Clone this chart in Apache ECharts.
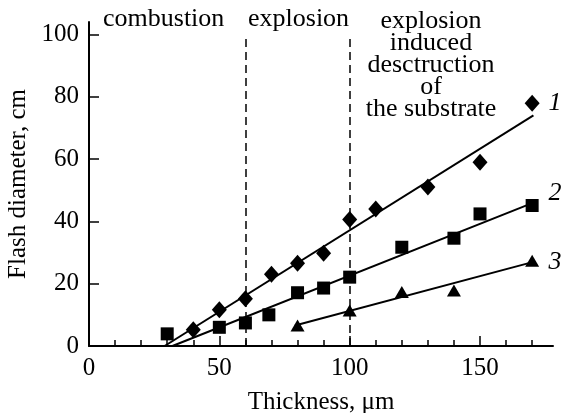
<!DOCTYPE html>
<html>
<head>
<meta charset="utf-8">
<script src="https://cdn.jsdelivr.net/npm/echarts@6/dist/echarts.min.js"></script>
<style>
html,body{margin:0;padding:0;background:#fff;}
#chart{width:564px;height:413px;}
</style>
</head>
<body>
<div id="chart"></div>
<script>
// ---- data ----
var diamonds = [[40,5.2],[50,11.6],[60,15.2],[70,23.0],[80,26.6],[90,29.8],[100,40.6],[110,44.0],[130,51.0],[150,59.0],[170,77.9]];
var squares = [[30,3.9],[50,6.0],[60,7.4],[69,10.0],[80,17.1],[90,18.6],[100,22.1],[120,31.7],[140,34.6],[150,42.4],[170,45.1]];
var triangles = [[80,6.6],[100,11.4],[120,17.3],[140,17.8],[170,27.4]];
var fit1 = [[29,0],[170.5,74]];
var fit2 = [[32,0],[170.5,46]];
var fit3 = [[79,6.6],[170.5,27]];
var regionBounds = [60, 100];
var boundTop = 99;
var xMajorTicks = [0, 50, 100, 150];
var xMinorTicks = [0,10,20,30,40,50,60,70,80,90,100,110,120,130,140,150,160,170];
var yTicks = [0, 20, 40, 60, 80, 100];
var regionTexts = ['combustion', 'explosion', 'explosion\ninduced\ndesctruction\nof\nthe substrate'];
var curveLabels = ['1', '2', '3'];

var FONT = 'Liberation Serif';
var chart = echarts.init(document.getElementById('chart'), null, {renderer: 'canvas'});

function axisCommon() {
  return {
    min: 0,
    axisLine: {show: true, lineStyle: {color: '#000', width: 2}},
    splitLine: {show: false},
    axisLabel: {color: '#000', fontFamily: FONT, fontSize: 25}
  };
}

var xMain = Object.assign(axisCommon(), {
  type: 'value', position: 'bottom', max: 178,
  axisTick: {show: true, inside: true, length: 6, lineStyle: {color: '#000', width: 1.5}, customValues: xMinorTicks},
  axisLabel: {color: '#000', fontFamily: FONT, fontSize: 25, margin: 10, customValues: xMajorTicks},
  name: 'Thickness, \u03bcm', nameLocation: 'middle', nameGap: 44,
  nameTextStyle: {color: '#000', fontFamily: FONT, fontSize: 25}
});
var xMajor = {
  type: 'value', position: 'bottom', min: 0, max: 178, gridIndex: 0,
  axisLine: {show: false}, splitLine: {show: false}, axisLabel: {show: false},
  axisTick: {show: true, inside: true, length: 10, lineStyle: {color: '#000', width: 1.5}, customValues: xMajorTicks}
};
var yAxis = Object.assign(axisCommon(), {
  type: 'value', max: 104,
  axisTick: {show: true, inside: true, length: 10, lineStyle: {color: '#000', width: 1.5}, customValues: yTicks.slice(1)},
  axisLabel: {color: '#000', fontFamily: FONT, fontSize: 25, margin: 10, customValues: yTicks},
  name: 'Flash diameter, cm', nameLocation: 'middle', nameGap: 57, nameRotate: 90,
  nameTextStyle: {color: '#000', fontFamily: FONT, fontSize: 25}
});

function fitSeries(d) {
  return {type: 'line', data: d, symbol: 'none', xAxisIndex: 0, lineStyle: {color: '#000', width: 2}, silent: true, z: 2};
}
function scatterSeries(d, sym, size) {
  return {type: 'scatter', data: d, symbol: sym, symbolSize: size, xAxisIndex: 0, itemStyle: {color: '#000', opacity: 1}, z: 3};
}

var bounds = regionBounds.map(function (b) { return [{coord: [b, 0]}, {coord: [b, boundTop]}]; });

chart.setOption({
  backgroundColor: '#fff',
  animation: false,
  grid: {left: 89, right: 11, top: 22, bottom: 67, containLabel: false, outerBoundsMode: 'none'},
  xAxis: [xMain, xMajor],
  yAxis: yAxis,
  series: [
    Object.assign(fitSeries(fit1), {
      markLine: {silent: true, symbol: ['none', 'none'], label: {show: false},
        lineStyle: {color: '#000', width: 1.5, type: [8, 5]}, data: bounds}
    }),
    fitSeries(fit2),
    fitSeries(fit3),
    scatterSeries(diamonds, 'diamond', [15, 17]),
    scatterSeries(squares, 'rect', 13),
    scatterSeries(triangles, 'triangle', [14, 12])
  ],
  graphic: [
    {type: 'text', left: 103, top: 6, style: {text: regionTexts[0], font: '26px "Liberation Serif"', fill: '#000'}},
    {type: 'text', left: 248, top: 6, style: {text: regionTexts[1], font: '26px "Liberation Serif"', fill: '#000'}},
    {type: 'text', x: 431, y: 10, style: {text: regionTexts[2], font: '26px "Liberation Serif"', fill: '#000', align: 'center', verticalAlign: 'top', lineHeight: 22}},
    {type: 'text', x: 555, y: 103, style: {text: curveLabels[0], font: 'italic 26px "Liberation Serif"', fill: '#000', align: 'center', verticalAlign: 'middle'}},
    {type: 'text', x: 555, y: 193, style: {text: curveLabels[1], font: 'italic 26px "Liberation Serif"', fill: '#000', align: 'center', verticalAlign: 'middle'}},
    {type: 'text', x: 555, y: 262, style: {text: curveLabels[2], font: 'italic 26px "Liberation Serif"', fill: '#000', align: 'center', verticalAlign: 'middle'}}
  ]
});
</script>
</body>
</html>
